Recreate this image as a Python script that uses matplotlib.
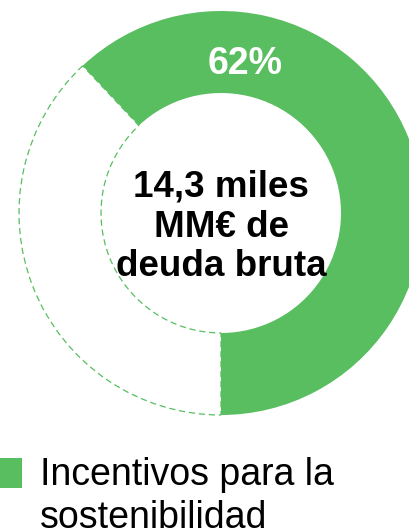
import matplotlib
matplotlib.use("Agg")
from matplotlib import pyplot as plt
from matplotlib.patches import Rectangle

plt.rcParams["font.family"] = ["Liberation Sans", "DejaVu Sans"]

# data
labels = ["Incentivos para la\nsostenibilidad", "Resto"]
shares = [62, 38]
pct_label = "62%"
center_label = "14,3 miles\nMM€ de\ndeuda bruta"

green = "#58BE60"

W, H = 409, 531
fig = plt.figure(figsize=(W / 100, H / 100), dpi=100)

# pie axes: center (221, 213) px from top-left, radius 202 px
cx, cy, r = 221, 213, 202
ax = fig.add_axes([(cx - r) / W, (H - cy - r) / H, 2 * r / W, 2 * r / H])
ax.set_axis_off()

wedges, _ = ax.pie(shares, radius=1, startangle=-90, counterclock=True,
                   colors=[green, "white"],
                   wedgeprops=dict(width=0.406, linewidth=0))
wedges[0].set_zorder(3)
wedges[1].set_edgecolor(green)
wedges[1].set_linewidth(0.9)
wedges[1].set_linestyle((0, (5, 3)))
ax.set_xlim(-1, 1)
ax.set_ylim(-1, 1)

ax.text(0.12, 0.74, pct_label, color="white", fontsize=27, fontweight="bold",
        ha="center", va="center", zorder=5)
ax.text(0.0, -0.07, center_label, color="black", fontsize=26.5, fontweight="bold",
        ha="center", va="center", linespacing=1.18, zorder=5)

# legend: swatch + label (baseline of last line)
fig.patches.append(Rectangle((-8 / W, 1 - 488 / H), 30 / W, 30 / H,
                             transform=fig.transFigure, facecolor=wedges[0].get_facecolor(),
                             edgecolor="none"))
fig.text(40 / W, 1 - 528 / H, labels[0], fontsize=27, color="black",
         ha="left", va="baseline", linespacing=1.24)

fig.savefig("out.png", dpi=100)
